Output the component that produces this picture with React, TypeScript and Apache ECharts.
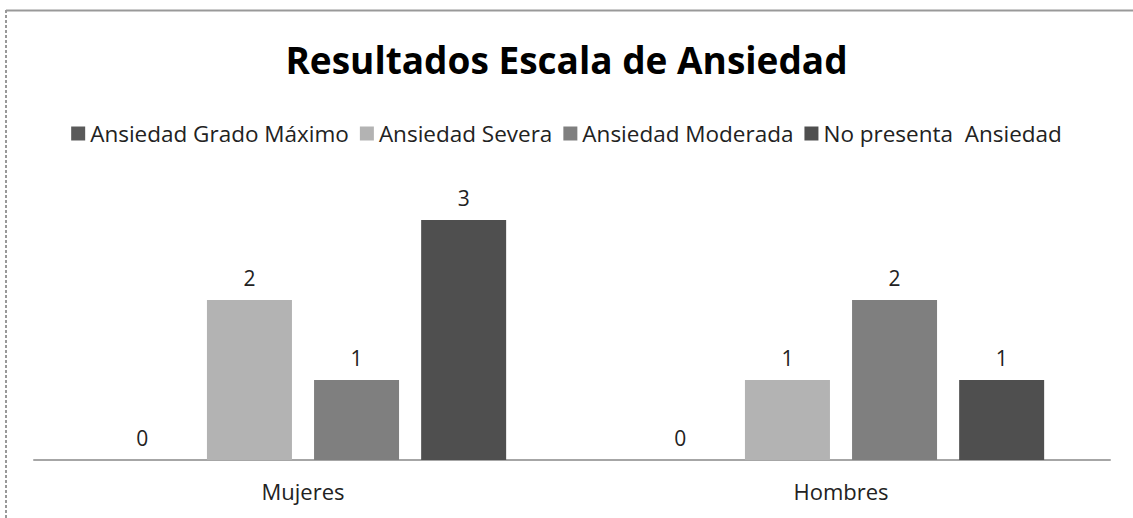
import React, { useEffect, useRef } from "react";
import * as echarts from "echarts";

const categories = ["Mujeres", "Hombres"];
const seriesNames = ["Ansiedad Grado Máximo", "Ansiedad Severa", "Ansiedad Moderada", "No presenta  Ansiedad"];
const gradoMaximo = [0, 0];
const severa = [2, 1];
const moderada = [1, 2];
const noPresenta = [3, 1];
const colors = ["#5a5a5a", "#b3b3b3", "#7f7f7f", "#4f4f4f"];

export default function App() {
  const ref = useRef<HTMLDivElement>(null);
  useEffect(() => {
    if (!ref.current) return;
    const chart = echarts.init(ref.current, null, { renderer: "svg" });
    const values = [gradoMaximo, severa, moderada, noPresenta];
    const font = "'Open Sans', 'DejaVu Sans', sans-serif";
    chart.setOption({
      animation: false,
      backgroundColor: "#ffffff",
      title: {
        text: "Resultados Escala de Ansiedad",
        left: "center",
        top: 36,
        textStyle: { fontFamily: font, fontSize: 37, fontWeight: "bold", color: "#000" },
      },
      legend: {
        top: 117,
        left: "center",
        itemWidth: 14,
        itemHeight: 14,
        itemGap: 11,
        icon: "rect",
        textStyle: { fontFamily: font, fontSize: 22.5, color: "#222", padding: [0, 0, 0, 0] },
        data: seriesNames,
      },
      grid: { left: 34, right: 23, top: 140, bottom: 58 },
      xAxis: {
        type: "category",
        data: categories,
        axisLine: { lineStyle: { color: "#a6a6a6", width: 2 } },
        axisTick: { show: false },
        axisLabel: { fontFamily: font, fontSize: 22, color: "#222", margin: 20 },
      },
      yAxis: { type: "value", min: 0, max: 4, show: false, splitLine: { show: false } },
      graphic: [
        { type: "line", shape: { x1: 6, y1: 10.5, x2: 1133, y2: 10.5 }, style: { stroke: "#999", lineWidth: 2 } },
        { type: "line", shape: { x1: 6, y1: 10, x2: 6, y2: 518 }, style: { stroke: "#999", lineWidth: 2, lineDash: [3, 2] } },
      ],
      series: seriesNames.map((name, i) => ({
        name,
        type: "bar",
        data: values[i],
        barWidth: 85,
        barGap: "26%",
        itemStyle: { color: colors[i] },
        label: {
          show: true,
          position: "top",
          distance: 12,
          fontFamily: font,
          fontSize: 21,
          color: "#222",
        },
      })),
    });
    return () => chart.dispose();
  }, []);
  return (
    <div
      ref={ref}
      style={{ position: "fixed", left: 0, top: 0, width: 1133, height: 518 }}
    />
  );
}
